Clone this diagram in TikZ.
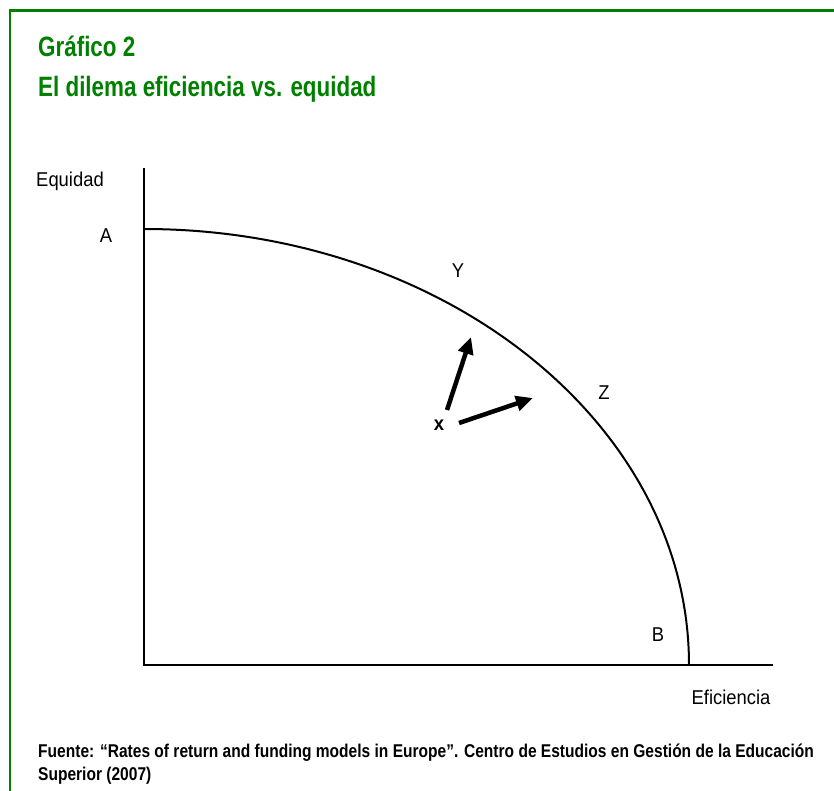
\documentclass[tikz,border=0pt]{standalone}
\usepackage{fontspec}
\setmainfont{Liberation Sans}[FakeStretch=0.8]
\newfontfamily\lblfont{Liberation Sans}[FakeStretch=0.92]
\newfontfamily\notefont{Liberation Sans}[FakeStretch=0.84]
\usetikzlibrary{arrows.meta}
\definecolor{grafgreen}{RGB}{0,128,0}
\tikzset{
  frame/.style={grafgreen, line width=2.5pt},
  title/.style={anchor=base west, inner sep=0pt, font=\fontsize{28}{40}\selectfont\bfseries, text=grafgreen},
  lbl/.style={inner sep=0pt, font=\lblfont\fontsize{20}{24}\selectfont},
  axis/.style={line width=1.5pt},
  frontier/.style={line width=2pt},
  arr/.style={-{Triangle[length=17pt, width=15pt]}, line width=4.5pt},
  note/.style={anchor=base west, inner sep=0pt, align=left, font=\notefont\fontsize{18.5}{23}\selectfont\bfseries}
}
\begin{document}
\begin{tikzpicture}[x=1pt, y=1pt]
\useasboundingbox (0,0) rectangle (834,-791);
\draw[frame] (10,-791) -- (10,-10.5) -- (834,-10.5);
\node[title] (t1) at (38,-57) {Gráfico 2};
\node[title] (t2) at (38,-97) {El dilema eficiencia vs. equidad};
% axes
\coordinate (O) at (144,-665);
\coordinate (ytop) at (144,-168);
\coordinate (xend) at (773,-665);
\coordinate (pA) at (144,-229);
\coordinate (pB) at (689,-665);
\draw[axis] (ytop) -- (O) -- (xend);
\draw[frontier] (pA) arc[start angle=90, end angle=0, x radius=545, y radius=436];
\node[lbl] (eq) at (70,-181) {Equidad};
\node[lbl] (ef) at (731,-697) {Eficiencia};
\node[lbl] (A) at (106,-236) {A};
\node[lbl] (B) at (658,-635) {B};
\node[lbl] (Y) at (458,-271) {Y};
\node[lbl] (Z) at (604,-393) {Z};
\node[lbl, font=\lblfont\fontsize{20}{24}\selectfont\bfseries] (x) at (439,-425) {x};
% moves from x
\coordinate (s1) at (447,-410);
\coordinate (e1) at (471,-337);
\coordinate (s2) at (459,-423);
\coordinate (e2) at (533,-398);
\draw[arr] (s1) -- (e1);
\draw[arr] (s2) -- (e2);
\node[note] (src) at (38,-780) {Fuente: “Rates of return and funding models in Europe”. Centro de Estudios en Gestión de la Educación\\Superior (2007)};
\end{tikzpicture}
\end{document}
